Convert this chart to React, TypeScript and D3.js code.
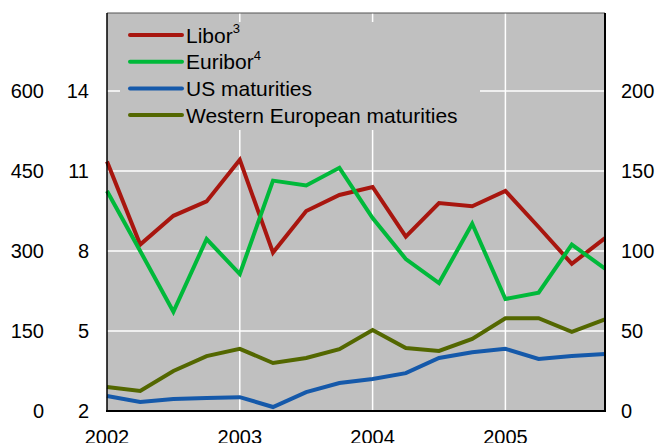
import React, { useEffect, useRef } from 'react';
import * as d3 from 'd3';

// Quarterly observations, 2002 Q1 – 2005 Q4
const QUARTERS = [
  2002, 2002.25, 2002.5, 2002.75,
  2003, 2003.25, 2003.5, 2003.75,
  2004, 2004.25, 2004.5, 2004.75,
  2005, 2005.25, 2005.5, 2005.75,
];

// spreads (right-hand scale)
const LIBOR = [156, 104, 122, 131, 157, 99, 125, 135, 140, 109, 130, 128, 137.5, 115, 92, 108];
const EURIBOR = [137.5, 100, 62, 107.5, 85.6, 144, 141, 152, 120.6, 95, 80, 117, 70, 74, 104, 89];

// maturities in years (inner left scale)
const US_MAT = [2.56, 2.34, 2.45, 2.49, 2.52, 2.15, 2.71, 3.05, 3.2, 3.42, 3.99, 4.2, 4.33, 3.95, 4.06, 4.14];
const WE_MAT = [2.9, 2.75, 3.5, 4.06, 4.33, 3.8, 3.99, 4.32, 5.04, 4.36, 4.25, 4.7, 5.48, 5.48, 4.97, 5.44];

const OUTER_TICKS = [0, 150, 300, 450, 600];
const INNER_TICKS = [2, 5, 8, 11, 14];
const RIGHT_TICKS = [0, 50, 100, 150, 200];
const YEAR_TICKS = [2002, 2003, 2004, 2005];

const W = 659;
const H = 443;
const PLOT = { left: 107, right: 605, top: 13, bottom: 411 };
const FONT = '"Liberation Sans", Arial, sans-serif';

const SERIES = [
  { name: 'Libor', sup: '3', values: LIBOR, axis: 'right', color: '#a8160f' },
  { name: 'Euribor', sup: '4', values: EURIBOR, axis: 'right', color: '#00b93a' },
  { name: 'US maturities', sup: '', values: US_MAT, axis: 'inner', color: '#1559aa' },
  { name: 'Western European maturities', sup: '', values: WE_MAT, axis: 'inner', color: '#536700' },
];

export default function App() {
  const svgRef = useRef<SVGSVGElement>(null);

  useEffect(() => {
    const svg = d3.select(svgRef.current);
    svg.selectAll('*').remove();

    const x = d3.scaleLinear().domain([2002, 2005.75]).range([PLOT.left, PLOT.right]);
    const yRight = d3.scaleLinear().domain([0, 200]).range([PLOT.bottom, 91]);
    const yInner = d3.scaleLinear().domain([2, 14]).range([PLOT.bottom, 91]);
    const yOuter = d3.scaleLinear().domain([0, 600]).range([PLOT.bottom, 91]);

    // plot background
    svg.append('rect')
      .attr('x', PLOT.left).attr('y', PLOT.top)
      .attr('width', PLOT.right - PLOT.left).attr('height', PLOT.bottom - PLOT.top)
      .attr('fill', '#c0c0c0');

    // gridlines
    const grid = svg.append('g').attr('stroke', '#ffffff').attr('stroke-width', 1.5);
    RIGHT_TICKS.slice(1).forEach(t => {
      grid.append('line')
        .attr('x1', PLOT.left).attr('x2', PLOT.right)
        .attr('y1', yRight(t)).attr('y2', yRight(t));
    });
    YEAR_TICKS.slice(1).forEach(t => {
      grid.append('line')
        .attr('x1', x(t)).attr('x2', x(t))
        .attr('y1', PLOT.top).attr('y2', PLOT.bottom);
    });

    // legend box hides the grid behind it
    svg.append('rect')
      .attr('x', 120).attr('y', 22).attr('width', 360).attr('height', 108)
      .attr('fill', '#c0c0c0');

    // series lines
    SERIES.forEach(s => {
      const y = s.axis === 'right' ? yRight : yInner;
      const line = d3.line<number>()
        .x((_, i) => x(QUARTERS[i]))
        .y(d => y(d));
      svg.append('path')
        .datum(s.values)
        .attr('d', line)
        .attr('fill', 'none')
        .attr('stroke', s.color)
        .attr('stroke-width', 4)
        .attr('stroke-linejoin', 'miter');
    });

    // frame
    svg.append('line')
      .attr('x1', PLOT.left).attr('x2', PLOT.right)
      .attr('y1', PLOT.top).attr('y2', PLOT.top)
      .attr('stroke', '#555').attr('stroke-width', 1.2);
    svg.append('line')
      .attr('x1', PLOT.left).attr('x2', PLOT.left)
      .attr('y1', PLOT.top).attr('y2', PLOT.bottom)
      .attr('stroke', '#000').attr('stroke-width', 1.5);
    svg.append('line')
      .attr('x1', PLOT.right).attr('x2', PLOT.right)
      .attr('y1', PLOT.top).attr('y2', PLOT.bottom)
      .attr('stroke', '#000').attr('stroke-width', 2);
    svg.append('line')
      .attr('x1', PLOT.left - 1).attr('x2', PLOT.right + 1)
      .attr('y1', PLOT.bottom).attr('y2', PLOT.bottom)
      .attr('stroke', '#000').attr('stroke-width', 2);

    // axis labels
    const lab = svg.append('g')
      .attr('font-family', FONT).attr('font-size', 20).attr('fill', '#000');
    OUTER_TICKS.forEach(t => {
      lab.append('text').attr('x', 44).attr('y', yOuter(t)).attr('dy', '0.35em')
        .attr('text-anchor', 'end').text(t);
    });
    INNER_TICKS.forEach(t => {
      lab.append('text').attr('x', 89).attr('y', yInner(t)).attr('dy', '0.35em')
        .attr('text-anchor', 'end').text(t);
    });
    RIGHT_TICKS.forEach(t => {
      lab.append('text').attr('x', 621).attr('y', yRight(t)).attr('dy', '0.35em')
        .attr('text-anchor', 'start').text(t);
    });
    YEAR_TICKS.forEach(t => {
      lab.append('text').attr('x', x(t)).attr('y', 444)
        .attr('text-anchor', 'middle').text(t);
    });

    // legend
    const leg = svg.append('g').attr('font-family', FONT).attr('font-size', 21);
    SERIES.forEach((s, i) => {
      const ly = 35 + i * 26.7;
      leg.append('line')
        .attr('x1', 130).attr('x2', 182).attr('y1', ly).attr('y2', ly)
        .attr('stroke', s.color).attr('stroke-width', 4).attr('stroke-linecap', 'round');
      const t = leg.append('text').attr('x', 186).attr('y', ly).attr('dy', '0.36em').attr('fill', '#000');
      t.append('tspan').text(s.name);
      if (s.sup) {
        t.append('tspan').attr('font-size', 13).attr('dy', '-0.7em').text(s.sup);
      }
    });
  }, []);

  return (
    <svg
      ref={svgRef}
      width={W}
      height={H}
      style={{ position: 'absolute', left: 0, top: 0, display: 'block', background: '#fff' }}
    />
  );
}
